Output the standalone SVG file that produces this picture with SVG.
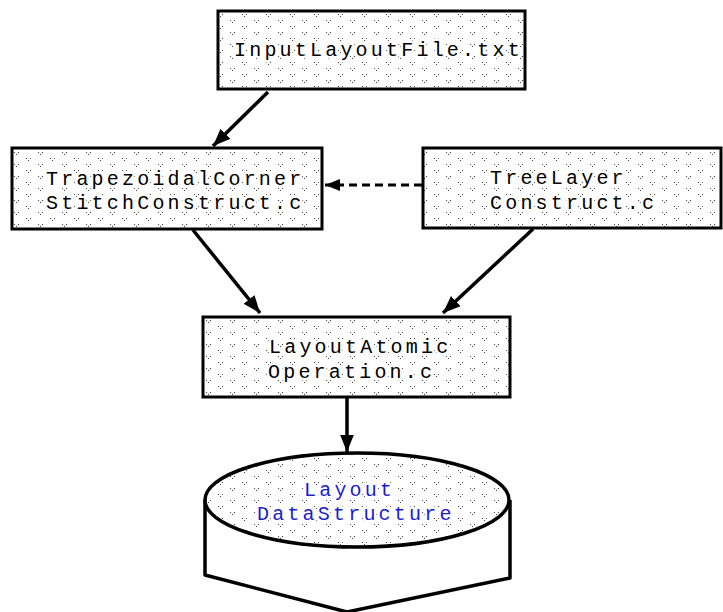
<svg xmlns="http://www.w3.org/2000/svg" width="723" height="612" viewBox="0 0 723 612">
  <style>
    .box { fill: url(#stipple); stroke: #000; stroke-width: 3; }
    .lbl { font-family: "Liberation Mono", "DejaVu Sans Mono", monospace; font-size: 20px; letter-spacing: 3.2px; fill: #000;
           stroke: #fff; stroke-width: 5; paint-order: stroke; stroke-linejoin: round; }
    .blue { fill: #1c1cd0; }
    .edge { stroke: #000; stroke-width: 3.5; fill: none; }
    .dash { stroke-dasharray: 8 5; stroke-width: 3; }
  </style>
  <defs>
    <!-- sparse halftone stipple used as the node fill -->
    <pattern id="stipple" width="24" height="12" patternUnits="userSpaceOnUse">
      <rect width="24" height="12" fill="#fff"/>
      <rect x="2" y="2" width="1" height="1" fill="#444"/>
      <rect x="6" y="2" width="1" height="1" fill="#444"/>
      <rect x="4" y="4" width="1" height="1" fill="#444"/>
      <rect x="14" y="8" width="1" height="1" fill="#444"/>
      <rect x="18" y="8" width="1" height="1" fill="#444"/>
      <rect x="16" y="10" width="1" height="1" fill="#444"/>
    </pattern>
    <marker id="arrow" markerWidth="5" markerHeight="4" refX="5" refY="2" orient="auto" markerUnits="strokeWidth">
      <path d="M0,0 L5,2 L0,4 Z" fill="#000"/>
    </marker>
  </defs>

  <g id="connectors">
    <line class="edge" x1="268" y1="92" x2="213" y2="146" marker-end="url(#arrow)"/>
    <line class="edge dash" x1="422" y1="185" x2="325" y2="185" marker-end="url(#arrow)"/>
    <line class="edge" x1="193" y1="230" x2="260" y2="313" marker-end="url(#arrow)"/>
    <line class="edge" x1="533" y1="229" x2="443" y2="313" marker-end="url(#arrow)"/>
    <line class="edge" x1="347" y1="398" x2="347" y2="452" marker-end="url(#arrow)"/>
  </g>

  <g id="input-layout-file">
    <rect class="box" x="218" y="11" width="307" height="78"/>
    <text class="lbl" x="234" y="56">InputLayoutFile.txt</text>
  </g>

  <g id="trapezoidal-corner-stitch">
    <rect class="box" x="12" y="148" width="310" height="81"/>
    <text class="lbl" x="46" y="185">TrapezoidalCorner</text>
    <text class="lbl" x="46" y="209">StitchConstruct.c</text>
  </g>

  <g id="tree-layer-construct">
    <rect class="box" x="423" y="148" width="298" height="80"/>
    <text class="lbl" x="490" y="184">TreeLayer</text>
    <text class="lbl" x="490" y="209">Construct.c</text>
  </g>

  <g id="layout-atomic-operation">
    <rect class="box" x="203" y="317" width="307" height="80"/>
    <text class="lbl" x="269" y="353">LayoutAtomic</text>
    <text class="lbl" x="268" y="378">Operation.c</text>
  </g>

  <g id="layout-data-structure">
    <path d="M205,500 L205,575 L347,612 L510,578 L510,500" fill="#fff" stroke="#000" stroke-width="3.5" stroke-linejoin="round"/>
    <ellipse cx="357" cy="500" rx="152" ry="47" fill="url(#stipple)" stroke="#000" stroke-width="3.5"/>
    <text class="lbl blue" x="304" y="496">Layout</text>
    <text class="lbl blue" x="257" y="520">DataStructure</text>
  </g>
</svg>
